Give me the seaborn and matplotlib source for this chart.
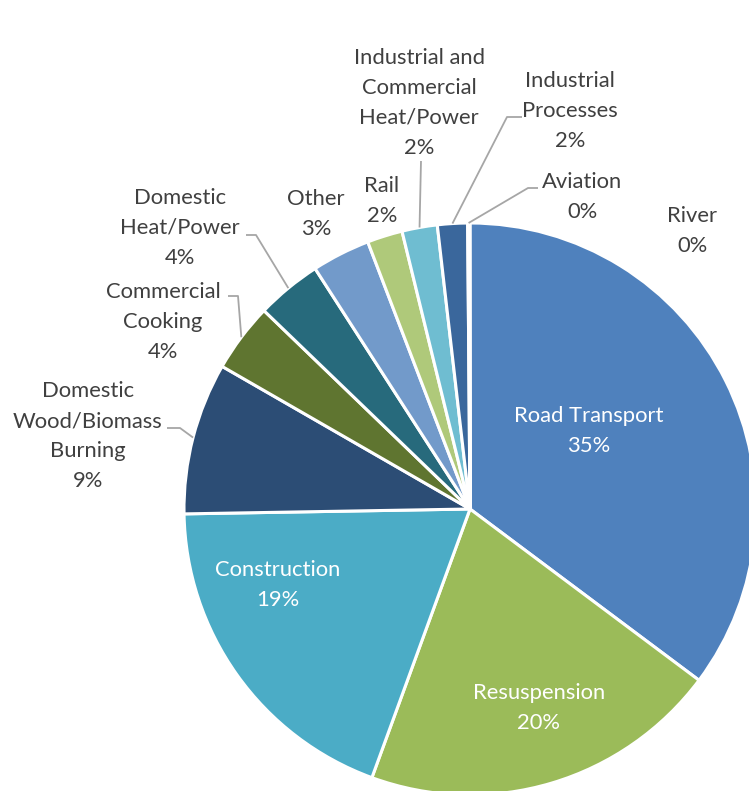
import numpy as np
import matplotlib
matplotlib.use("Agg")
import matplotlib.pyplot as plt
import seaborn as sns

# PM2.5 emission sources, share of total (%)
sources = [
    "Road Transport", "Resuspension", "Construction",
    "Domestic\nWood/Biomass\nBurning", "Commercial\nCooking",
    "Domestic\nHeat/Power", "Other", "Rail",
    "Industrial and\nCommercial\nHeat/Power", "Industrial\nProcesses",
    "Aviation", "River",
]
shares = [35.3, 20.4, 19.2, 8.6, 3.9, 3.7, 3.3, 2.0, 2.0, 1.7, 0.1, 0.03]
colors = [
    "#4F81BD", "#9BBB59", "#4BACC6", "#2C4D75", "#5F7530", "#276A7C",
    "#729ACA", "#AFC97A", "#6FBDD1", "#3A679C", "#7F9A48", "#3E8FA4",
]

sns.set_theme(style="white")
plt.rcParams["font.family"] = ["Lato", "DejaVu Sans"]

W, H = 749, 791
fig = plt.figure(figsize=(W / 100, H / 100), dpi=100)
ax = fig.add_axes([0, 0, 1, 1])


def px(x, y):
    """Convert a top-left pixel position to axis coordinates."""
    return x, H - y


cx, cy = px(470, 509)
radius = 286

wedges, _ = ax.pie(
    shares, colors=colors, startangle=90, counterclock=False,
    center=(cx, cy), radius=radius, frame=True,
    wedgeprops=dict(edgecolor="white", linewidth=2.2),
)
ax.set_xlim(0, W)
ax.set_ylim(0, H)
ax.set_aspect("equal")
ax.axis("off")

FS = 15.8
LS = 1.62
dark = "#404040"
lead = "#A6A6A6"


def label_text(i):
    return f"{sources[i]}\n{round(shares[i]):.0f}%"


def anchor(i):
    w = wedges[i]
    mid = np.deg2rad((w.theta1 + w.theta2) / 2)
    return cx + radius * np.cos(mid), cy + radius * np.sin(mid)


# labels placed inside the large wedges
inside = {0: (589, 431), 1: (539, 708), 2: (278, 585)}
for i, (x, y) in inside.items():
    ax.text(*px(x, y), label_text(i), ha="center", va="center",
            color="white", fontsize=FS, linespacing=LS)

# labels outside the pie: block centre, and optional elbow of the leader line
outside = {
    3: ((88, 436), [(167, 428), (180, 428)]),
    4: ((163, 322), [(228, 296), (238, 296)]),
    5: ((180, 228), [(246, 235), (256, 235)]),
    6: ((316, 214), None),
    7: ((382, 201), None),
    8: ((419, 103), [(421, 161)]),
    9: ((570, 111), [(522, 117), (507, 117)]),
    10: ((582, 197), [(538, 188), (528, 188)]),
    11: ((692, 231), None),
}
for i, ((x, y), elbow) in outside.items():
    ax.text(*px(x, y), label_text(i), ha="center", va="center",
            color=dark, fontsize=FS, linespacing=LS)
    if elbow:
        pts = [px(ex, ey) for ex, ey in elbow] + [anchor(i)]
        xs, ys = zip(*pts)
        ax.plot(xs, ys, color=lead, linewidth=1.3, solid_capstyle="butt")

fig.savefig("out.png", dpi=100, facecolor="white")
